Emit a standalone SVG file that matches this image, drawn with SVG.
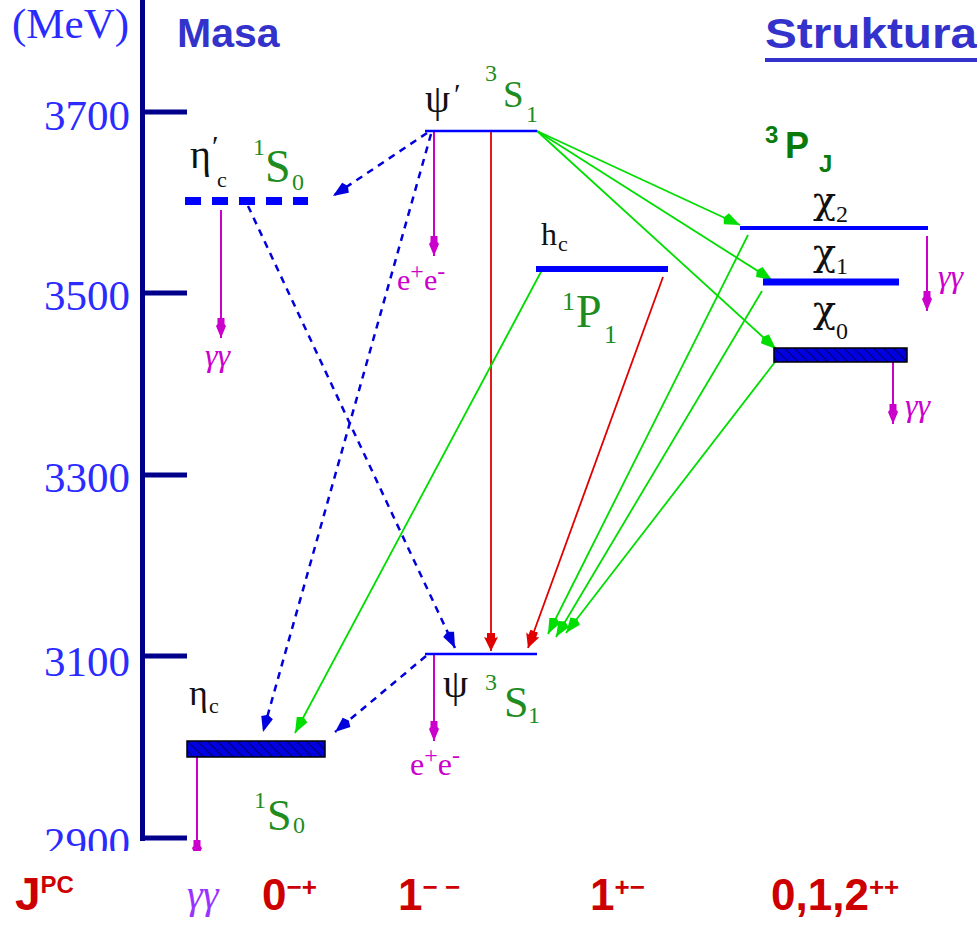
<svg xmlns="http://www.w3.org/2000/svg" width="977" height="931" viewBox="0 0 977 931">
<style>
.num{font-family:"Liberation Serif",serif;font-size:43px;fill:#2b2bff}
.head{font-family:"Liberation Sans",Arial,sans-serif;font-weight:bold;fill:#3333cc}
.sym{font-family:"Liberation Serif",serif;fill:#111}
.chi{font-family:"DejaVu Serif","Liberation Serif",serif;fill:#111}
.grn{font-family:"Liberation Serif",serif;fill:#1e8c1e}
.mag{font-family:"Liberation Serif",serif;fill:#cc00cc}
.jpc{font-family:"Liberation Sans",Arial,sans-serif;font-weight:bold;fill:#cc0000}
.lvl{stroke:#0000ff;fill:none}
.box{fill:url(#hatch);stroke:#000;stroke-width:1.5}
.dec{stroke:#cc00cc;stroke-width:2;fill:none;marker-end:url(#mM)}
.red{stroke:#e00000;stroke-width:1.8;fill:none;marker-end:url(#mR)}
.gr{stroke:#00dd00;stroke-width:1.8;fill:none;marker-end:url(#mG)}
.bd{stroke:#0000dd;stroke-width:2.5;fill:none;stroke-dasharray:7 6;marker-end:url(#mB)}
</style>
<defs>
<pattern id="hatch" patternUnits="userSpaceOnUse" width="7" height="7" patternTransform="rotate(-45)">
<rect width="7" height="7" fill="#0000e0"/>
<line x1="0" y1="0" x2="0" y2="7" stroke="#000066" stroke-width="2"/>
</pattern>
<marker id="mM" markerUnits="userSpaceOnUse" markerWidth="22" markerHeight="12" refX="20" refY="6" orient="auto"><path d="M0,2.5 L6,2.5 L8,1 L20,6 L8,11 L6,9.5 L0,9.5 Z" fill="#cc00cc"/></marker>
<marker id="mR" markerUnits="userSpaceOnUse" markerWidth="20" markerHeight="14" refX="18" refY="7" orient="auto"><path d="M0,3 L5,3 L4,0 L18,7 L4,14 L5,11 L0,11 Z" fill="#e00000"/></marker>
<marker id="mG" markerUnits="userSpaceOnUse" markerWidth="20" markerHeight="14" refX="18" refY="7" orient="auto"><path d="M0,7 L3,1 L18,7 L3,13 Z" fill="#00dd00"/></marker>
<marker id="mB" markerUnits="userSpaceOnUse" markerWidth="20" markerHeight="14" refX="18" refY="7" orient="auto"><path d="M0,7 L3,1 L18,7 L3,13 Z" fill="#0000dd"/></marker>
</defs>
<rect width="977" height="931" fill="#fff"/>

<g id="axis">
<line x1="142.5" y1="0" x2="142.5" y2="841" stroke="#00008b" stroke-width="5"/>
<g stroke="#00008b" stroke-width="5">
<line x1="142" y1="112" x2="187" y2="112"/>
<line x1="142" y1="293" x2="187" y2="293"/>
<line x1="142" y1="475" x2="187" y2="475"/>
<line x1="142" y1="656" x2="187" y2="656"/>
<line x1="142" y1="838" x2="187" y2="838"/>
</g>
<text class="num" x="12" y="38" font-size="40">(MeV)</text>
<text class="num" x="130" y="130" text-anchor="end">3700</text>
<text class="num" x="130" y="310" text-anchor="end">3500</text>
<text class="num" x="130" y="492" text-anchor="end">3300</text>
<text class="num" x="130" y="676" text-anchor="end">3100</text>
<text class="num" x="130" y="857" text-anchor="end">2900</text>
</g>

<g id="headings">
<text class="head" x="177" y="47" font-size="41">Masa</text>
<text class="head" x="765" y="48" font-size="42" textLength="212" lengthAdjust="spacingAndGlyphs">Struktura</text>
<line x1="765" y1="60" x2="977" y2="60" stroke="#3333cc" stroke-width="4"/>
<text x="765" y="143" font-family="Liberation Sans, Arial, sans-serif" font-weight="bold" fill="#0a7a0a" font-size="24">3</text>
<text x="785" y="158" font-family="Liberation Sans, Arial, sans-serif" font-weight="bold" fill="#0a7a0a" font-size="36">P</text>
<text x="819" y="172" font-family="Liberation Sans, Arial, sans-serif" font-weight="bold" fill="#0a7a0a" font-size="24">J</text>
</g>

<g id="connectors">
<line class="red" x1="491" y1="131" x2="491" y2="651"/>
<line class="red" x1="663" y1="277" x2="528" y2="648"/>
<line class="gr" x1="537" y1="131" x2="740" y2="225"/>
<line class="gr" x1="537" y1="131" x2="772" y2="280"/>
<line class="gr" x1="537" y1="131" x2="776" y2="349"/>
<line class="gr" x1="542" y1="270" x2="295" y2="733"/>
<line class="gr" x1="748" y1="235" x2="548" y2="634"/>
<line class="gr" x1="762" y1="291" x2="556" y2="637"/>
<line class="gr" x1="775" y1="362" x2="566" y2="633"/>
<line class="bd" x1="427" y1="133" x2="333" y2="196"/>
<line class="bd" x1="431" y1="134" x2="263" y2="732"/>
<line class="bd" x1="248" y1="206" x2="455" y2="648"/>
<line class="bd" x1="426" y1="656" x2="335" y2="732"/>
<line class="dec" x1="221" y1="210" x2="221" y2="338"/>
<line class="dec" x1="434" y1="131" x2="434" y2="256"/>
<line class="dec" x1="927" y1="236" x2="927" y2="311"/>
<line class="dec" x1="893" y1="362" x2="893" y2="424"/>
<line class="dec" x1="434" y1="654" x2="434" y2="741"/>
<line class="dec" x1="197" y1="757" x2="197" y2="860"/>
</g>

<g id="etac2S">
<line class="lvl" x1="185" y1="201" x2="308" y2="201" stroke-width="8" stroke-dasharray="16 11" stroke="#0000ee"/>
<text class="sym" x="190" y="168" font-size="40">η</text>
<text class="sym" x="212" y="156" font-size="30">′</text>
<text class="sym" x="217" y="187" font-size="22">c</text>
<text class="grn" x="253" y="155" font-size="24">1</text>
<text class="grn" x="265" y="182" font-size="46">S</text>
<text class="grn" x="292" y="190" font-size="24">0</text>
<text class="mag" x="205" y="366" font-size="32" font-style="italic">γγ</text>
</g>

<g id="psi2S">
<line class="lvl" x1="425" y1="131" x2="537" y2="131" stroke-width="2.5"/>
<text class="sym" x="425" y="112" font-size="40">ψ</text>
<text class="sym" x="454" y="104" font-size="30">′</text>
<text class="grn" x="485" y="81" font-size="24">3</text>
<text class="grn" x="503" y="107" font-size="37">S</text>
<text class="grn" x="526" y="122" font-size="24">1</text>
<text class="mag" x="397" y="290" font-size="30">e<tspan font-size="24" dy="-11">+</tspan><tspan dy="11">e</tspan><tspan font-size="24" dy="-11">-</tspan></text>
</g>

<g id="hc">
<line class="lvl" x1="536" y1="269" x2="668" y2="269" stroke-width="6"/>
<text class="sym" x="541" y="245" font-size="32">h</text>
<text class="sym" x="558" y="251" font-size="22">c</text>
<text class="grn" x="562" y="310" font-size="26">1</text>
<text class="grn" x="576" y="327" font-size="46">P</text>
<text class="grn" x="604" y="343" font-size="26">1</text>
</g>

<g id="chi2">
<line class="lvl" x1="740" y1="228" x2="928" y2="228" stroke-width="4"/>
<text class="chi" x="813" y="213" font-size="38">χ</text>
<text class="sym" x="836" y="222" font-size="24">2</text>
<text class="mag" x="938" y="287" font-size="32" font-style="italic">γγ</text>
</g>

<g id="chi1">
<line class="lvl" x1="763" y1="282" x2="899" y2="282" stroke-width="7"/>
<text class="chi" x="813" y="265" font-size="38">χ</text>
<text class="sym" x="836" y="274" font-size="24">1</text>
</g>

<g id="chi0">
<rect class="box" x="774" y="348" width="133" height="14"/>
<text class="chi" x="813" y="322" font-size="38">χ</text>
<text class="sym" x="836" y="339" font-size="24">0</text>
<text class="mag" x="905" y="416" font-size="32" font-style="italic">γγ</text>
</g>

<g id="psi1S">
<line class="lvl" x1="425" y1="654" x2="537" y2="654" stroke-width="2.5"/>
<text class="sym" x="443" y="697" font-size="40">ψ</text>
<text class="grn" x="485" y="690" font-size="24">3</text>
<text class="grn" x="504" y="717" font-size="44">S</text>
<text class="grn" x="528" y="723" font-size="24">1</text>
<text class="mag" x="410" y="775" font-size="32">e<tspan font-size="24" dy="-12">+</tspan><tspan dy="12">e</tspan><tspan font-size="24" dy="-12">-</tspan></text>
</g>

<g id="etac1S">
<rect class="box" x="187" y="741" width="138" height="16"/>
<text class="sym" x="189" y="705" font-size="36">η</text>
<text class="sym" x="209" y="713" font-size="22">c</text>
<text class="grn" x="254" y="808" font-size="24">1</text>
<text class="grn" x="267" y="830" font-size="44">S</text>
<text class="grn" x="293" y="833" font-size="24">0</text>
</g>

<rect x="0" y="851" width="320" height="16" fill="#fff"/>

<g id="jpc-row">
<text class="jpc" x="15" y="910" font-size="46">J<tspan font-size="24" dy="-17">PC</tspan></text>
<text x="187" y="908" font-family="Liberation Serif, serif" font-style="italic" font-size="40" fill="#9933ff">γγ</text>
<text class="jpc" x="262" y="910" font-size="44">0<tspan font-size="26" dy="-14">−+</tspan></text>
<text class="jpc" x="398" y="910" font-size="44">1<tspan font-size="26" dy="-14">− −</tspan></text>
<text class="jpc" x="590" y="910" font-size="44">1<tspan font-size="26" dy="-14">+−</tspan></text>
<text class="jpc" x="771" y="910" font-size="44">0,1,2<tspan font-size="26" dy="-14">++</tspan></text>
</g>
</svg>
